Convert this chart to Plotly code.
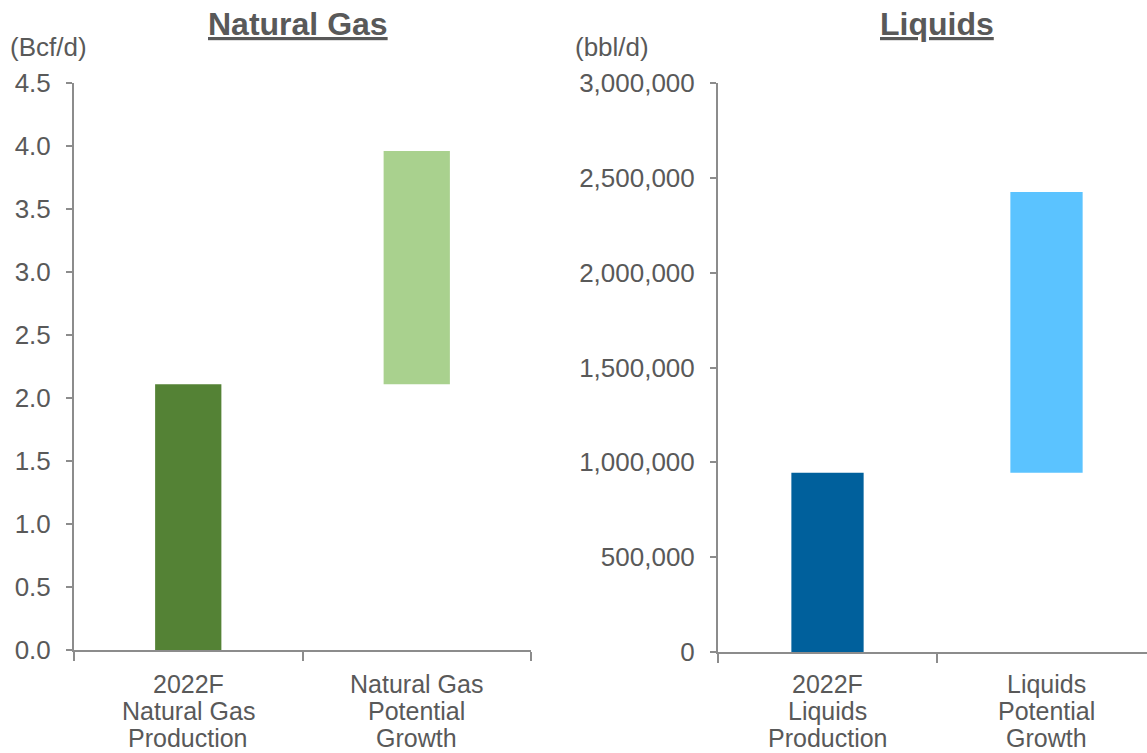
import plotly.graph_objects as go

# Natural gas (Bcf/d)
gas_categories = ["2022F<br>Natural Gas<br>Production", "Natural Gas<br>Potential<br>Growth"]
gas_production = 2.11
gas_potential_total = 3.96

# Liquids (bbl/d)
liq_categories = ["2022F<br>Liquids<br>Production", "Liquids<br>Potential<br>Growth"]
liq_production = 945000
liq_potential_total = 2425000

gas_tickvals = [0, 0.5, 1.0, 1.5, 2.0, 2.5, 3.0, 3.5, 4.0, 4.5]
liq_tickvals = [0, 500000, 1000000, 1500000, 2000000, 2500000, 3000000]

FONT = "Liberation Sans, Arial, sans-serif"
TEXT = "#595959"
AXIS = "#8c8c8c"
W, H = 1147, 753

fig = go.Figure()

# Natural gas: production bar and floating growth bar
fig.add_trace(go.Bar(
    x=[gas_categories[0]], y=[gas_production], base=[0],
    marker=dict(color="#548235", line=dict(width=0)), width=0.29,
    xaxis="x", yaxis="y", showlegend=False, hoverinfo="skip"))
fig.add_trace(go.Bar(
    x=[gas_categories[1]], y=[gas_potential_total - gas_production], base=[gas_production],
    marker=dict(color="#A9D18E", line=dict(width=0)), width=0.29,
    xaxis="x", yaxis="y", showlegend=False, hoverinfo="skip"))

# Liquids: production bar and floating growth bar
fig.add_trace(go.Bar(
    x=[liq_categories[0]], y=[liq_production], base=[0],
    marker=dict(color="#00609C", line=dict(width=0)), width=0.33,
    xaxis="x2", yaxis="y2", showlegend=False, hoverinfo="skip"))
fig.add_trace(go.Bar(
    x=[liq_categories[1]], y=[liq_potential_total - liq_production], base=[liq_production],
    marker=dict(color="#5BC3FF", line=dict(width=0)), width=0.33,
    xaxis="x2", yaxis="y2", showlegend=False, hoverinfo="skip"))

xcommon = dict(type="category", showgrid=False, zeroline=False, showline=True,
               linecolor=AXIS, linewidth=2, ticks="outside", tickson="boundaries",
               ticklen=9, tickwidth=2, tickcolor=AXIS, showticklabels=False,
               automargin=False)
ycommon = dict(showgrid=False, zeroline=False, showline=True, linecolor=AXIS, linewidth=2,
               ticks="outside", ticklen=6, tickwidth=2, tickcolor=AXIS, ticklabelstandoff=10,
               tickfont=dict(family=FONT, size=26, color=TEXT), automargin=False)

annotations = [
    dict(text="<b><u>Natural Gas</u></b>", x=298/W, y=1 - 24/H, xref="paper", yref="paper",
         xanchor="center", yanchor="middle", showarrow=False,
         font=dict(family=FONT, size=32, color=TEXT)),
    dict(text="<b><u>Liquids</u></b>", x=937/W, y=1 - 24/H, xref="paper", yref="paper",
         xanchor="center", yanchor="middle", showarrow=False,
         font=dict(family=FONT, size=32, color=TEXT)),
    dict(text="(Bcf/d)", x=8/W, y=1 - 47/H, xref="paper", yref="paper",
         xanchor="left", yanchor="middle", showarrow=False,
         font=dict(family=FONT, size=26, color=TEXT)),
    dict(text="(bbl/d)", x=573/W, y=1 - 47/H, xref="paper", yref="paper",
         xanchor="left", yanchor="middle", showarrow=False,
         font=dict(family=FONT, size=26, color=TEXT)),
]

# Category labels: one line per annotation so the line spacing stays tight
LINE_Y = [684, 711, 738]
for xref, cats in (("x", gas_categories), ("x2", liq_categories)):
    for cat in cats:
        for line, ypix in zip(cat.split("<br>"), LINE_Y):
            annotations.append(dict(
                text=line, x=cat, xref=xref, y=1 - ypix/H, yref="paper",
                xanchor="center", yanchor="middle", showarrow=False,
                font=dict(family=FONT, size=25, color=TEXT)))

fig.update_layout(
    width=W, height=H,
    margin=dict(l=0, r=0, t=0, b=0),
    paper_bgcolor="white", plot_bgcolor="white",
    barmode="overlay",
    xaxis=dict(domain=[74/W, 531/W], range=[-0.5, 1.5],
               categoryorder="array", categoryarray=gas_categories, anchor="y", **xcommon),
    yaxis=dict(domain=[103/H, 670/H], range=[0, 4.5], tickvals=gas_tickvals,
               tickformat=".1f", anchor="x", **ycommon),
    xaxis2=dict(domain=[718/W, 1.0], range=[-0.5, -0.5 + 429/219],
                categoryorder="array", categoryarray=liq_categories, anchor="y2", **xcommon),
    yaxis2=dict(domain=[101/H, 670/H], range=[0, 3000000], tickvals=liq_tickvals,
                tickformat=",d", anchor="x2", **ycommon),
    annotations=annotations,
)

fig.write_html("out.html")
